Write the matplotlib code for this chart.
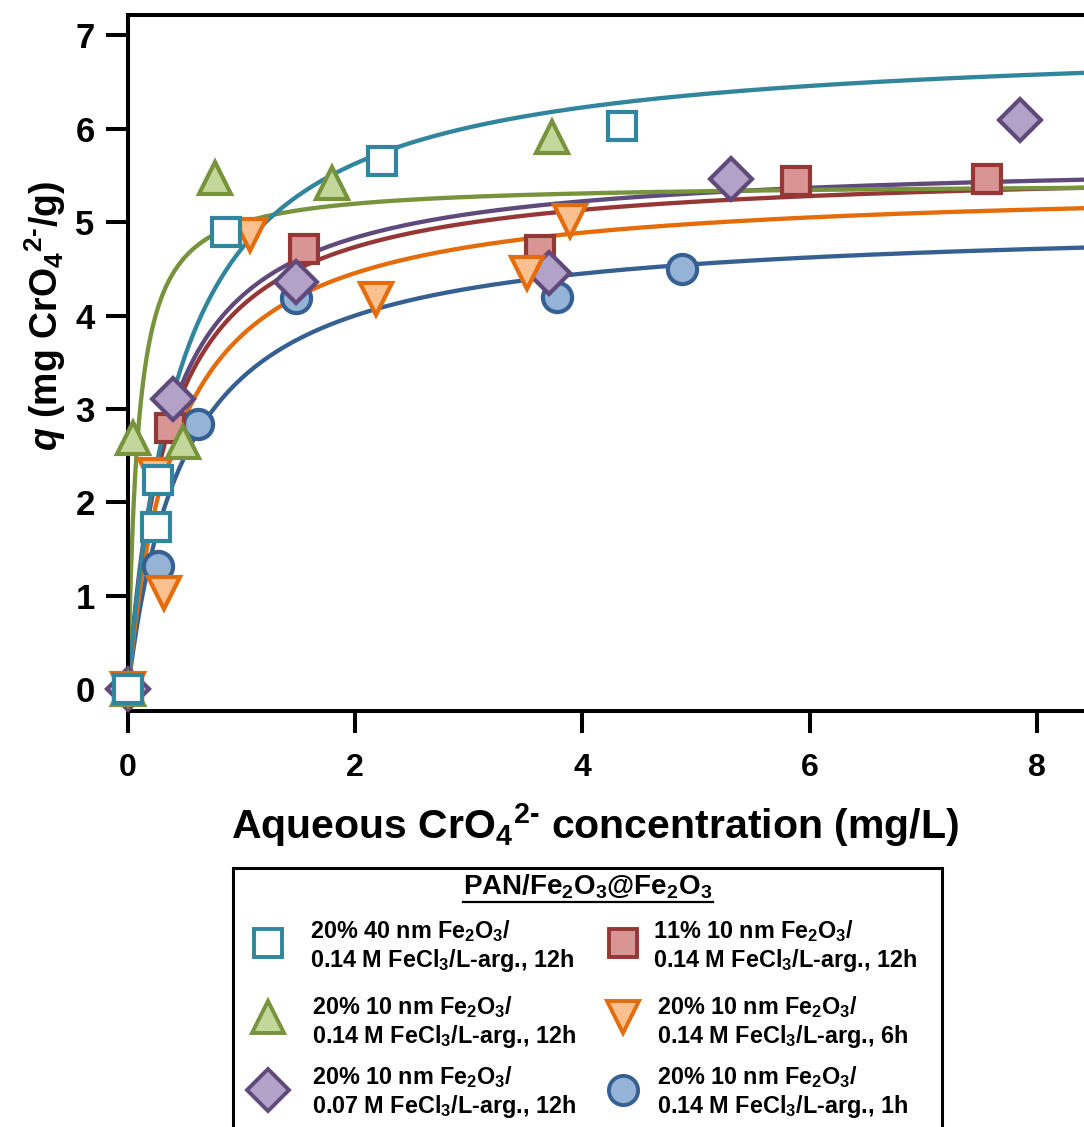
import numpy as np
import matplotlib
matplotlib.use('Agg')
import matplotlib.pyplot as plt
from matplotlib.lines import Line2D
from matplotlib.patches import Rectangle

plt.rcParams['font.family'] = ['Liberation Sans', 'DejaVu Sans']
plt.rcParams['font.weight'] = 'bold'
plt.rcParams['mathtext.fontset'] = 'custom'
plt.rcParams['mathtext.rm'] = 'Liberation Sans:bold'
plt.rcParams['mathtext.bf'] = 'Liberation Sans:bold'
plt.rcParams['mathtext.it'] = 'Liberation Sans:italic:bold'
plt.rcParams['mathtext.default'] = 'rm'

# Measured isotherm points (aqueous concentration mg/L, uptake mg/g)
teal_x = [0, 0.25, 0.26, 0.86, 2.24, 4.35]
teal_y = [0, 1.74, 2.24, 4.89, 5.65, 6.03]
green_x = [0, 0.04, 0.48, 0.77, 1.80, 3.73]
green_y = [0, 2.69, 2.65, 5.47, 5.42, 5.91]
purple_x = [0, 0.40, 1.48, 3.71, 5.31, 7.85]
purple_y = [0, 3.11, 4.36, 4.45, 5.46, 6.09]
red_x = [0, 0.37, 1.55, 3.63, 5.88, 7.56]
red_y = [0, 2.80, 4.71, 4.70, 5.44, 5.46]
orange_x = [0, 0.24, 0.32, 1.07, 2.18, 3.51, 3.89]
orange_y = [0, 2.29, 1.03, 4.86, 4.18, 4.45, 5.01]
blue_x = [0, 0.26, 0.62, 1.48, 3.78, 4.88]
blue_y = [0, 1.32, 2.84, 4.19, 4.20, 4.50]

# Langmuir fit parameters (qmax in mg/g, K in L/mg)
teal_fit = (6.97, 2.09)
green_fit = (5.42, 11.6)
purple_fit = (5.68, 2.85)
red_fit = (5.60, 2.73)
orange_fit = (5.41, 2.33)
blue_fit = (5.01, 1.98)

labels = [
    '20% 40 nm Fe$_2$O$_3$/\n0.14 M FeCl$_3$/L-arg., 12h',
    '20% 10 nm Fe$_2$O$_3$/\n0.14 M FeCl$_3$/L-arg., 12h',
    '20% 10 nm Fe$_2$O$_3$/\n0.07 M FeCl$_3$/L-arg., 12h',
    '11% 10 nm Fe$_2$O$_3$/\n0.14 M FeCl$_3$/L-arg., 12h',
    '20% 10 nm Fe$_2$O$_3$/\n0.14 M FeCl$_3$/L-arg., 6h',
    '20% 10 nm Fe$_2$O$_3$/\n0.14 M FeCl$_3$/L-arg., 1h',
]

# series style: line colour, face colour, marker, marker size
series = [
    # drawn bottom to top
    ('blue', blue_x, blue_y, blue_fit, '#376092', '#95b3d7', 'o', 21),
    ('red', red_x, red_y, red_fit, '#953735', '#d99594', 's', 20),
    ('purple', purple_x, purple_y, purple_fit, '#604a7b', '#b3a2c7', 'D', 21),
    ('orange', orange_x, orange_y, orange_fit, '#e46c0a', '#fac090', 'v', 23),
    ('green', green_x, green_y, green_fit, '#77933c', '#c4d79b', '^', 23),
    ('teal', teal_x, teal_y, teal_fit, '#31859c', 'white', 's', 20),
]

fig = plt.figure(figsize=(10.84, 11.27), dpi=100)
W, H = 1084, 1127
ax = fig.add_axes([128 / W, 416 / H, 1136 / W, 696 / H])

cc = np.linspace(0, 10, 800)
for name, x, y, (qm, k), lc, fc, mk, ms in series:
    ax.plot(cc, qm * k * cc / (1 + k * cc), color=lc, lw=3.1, zorder=2)
for name, x, y, (qm, k), lc, fc, mk, ms in series:
    ax.plot(x, y, ls='none', marker=mk, ms=ms, mfc=fc, mec=lc, mew=3.0,
            zorder=3, clip_on=False)

ax.set_xlim(0, 10)
ax.set_ylim(-0.23, 7.214)
ax.set_xticks([0, 2, 4, 6, 8])
ax.set_yticks(range(8))
for s in ax.spines.values():
    s.set_linewidth(2.9)
ax.tick_params(axis='both', direction='out', length=16, width=2.9)
ax.tick_params(axis='x', labelsize=23, pad=14)
ax.tick_params(axis='y', labelsize=25, pad=8)

fig.text(595 / W, 1 - 825 / H,
         'Aqueous CrO$_4$$^{2\\text{-}}$ concentration (mg/L)',
         ha='center', va='center', fontsize=29.5, fontweight='bold')
fig.text(45 / W, 1 - 316 / H,
         '$\\mathit{q}$ (mg CrO$_4$$^{2\\text{-}}$/g)',
         ha='center', va='center', rotation=90, fontsize=27, fontweight='bold')

# legend panel
fig.add_artist(Rectangle((233 / W, -0.05), (942 - 233) / W, 1 - 868 / H + 0.05,
                         transform=fig.transFigure, fill=False, lw=2.2,
                         edgecolor='black'))
title = fig.text(588 / W, 1 - 887 / H, 'PAN/Fe$_2$O$_3$@Fe$_2$O$_3$',
                 ha='center', va='center', fontsize=20, fontweight='bold')

order = [5, 4, 2, 1, 3, 0]
mk_pos = [(268, 943), (268, 1017), (268, 1090),
          (623, 943), (623, 1017), (623, 1090)]
txt_pos = [(310, 946), (312, 1022), (312, 1092),
           (653, 946), (657, 1022), (657, 1092)]
for i, idx in enumerate(order):
    name, x, y, fit, lc, fc, mk, ms = series[idx]
    mx, my = mk_pos[i]
    fig.add_artist(Line2D([mx / W], [1 - my / H], transform=fig.transFigure,
                          marker=mk, ms=ms, mfc=fc, mec=lc, mew=2.8,
                          ls='none'))
    tx, ty = txt_pos[i]
    fig.text(tx / W, 1 - ty / H, labels[i], ha='left', va='center',
             fontsize=16.8, fontweight='bold', linespacing=1.12)

# underline the legend heading
fig.canvas.draw()
bb = title.get_window_extent().transformed(fig.transFigure.inverted())
fig.add_artist(Line2D([bb.x0, bb.x1], [bb.y0 - 0.001, bb.y0 - 0.001],
                      transform=fig.transFigure, color='black', lw=1.6))

fig.savefig('out.png', dpi=100)
